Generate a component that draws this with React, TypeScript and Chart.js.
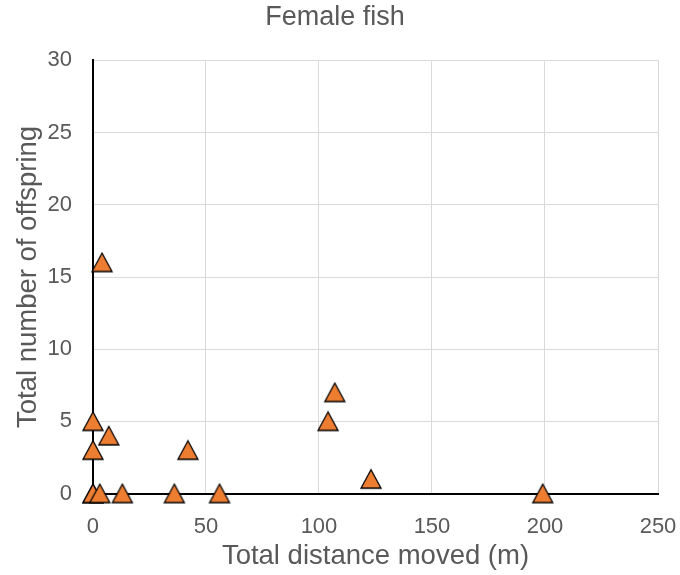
import React, { useEffect, useRef } from "react";
import { Chart, registerables } from "chart.js";
Chart.register(...registerables);

const distance = [0, 0, 0, 0, 3, 4, 7, 13, 36, 42, 56, 104, 107, 123, 199];
const offspring = [0, 0, 3, 5, 0, 16, 4, 0, 0, 3, 0, 5, 7, 1, 0];
const xTicks = [0, 50, 100, 150, 200, 250];
const yTicks = [0, 5, 10, 15, 20, 25, 30];

function makeTriangle(): HTMLCanvasElement {
  const c = document.createElement("canvas");
  c.width = 24;
  c.height = 22;
  const ctx = c.getContext("2d")!;
  ctx.beginPath();
  ctx.moveTo(12, 1.5);
  ctx.lineTo(22, 20);
  ctx.lineTo(2, 20);
  ctx.closePath();
  ctx.fillStyle = "#ed7d31";
  ctx.fill();
  ctx.lineWidth = 1.3;
  ctx.lineJoin = "miter";
  ctx.strokeStyle = "#000000";
  ctx.stroke();
  return c;
}

export default function App() {
  const ref = useRef<HTMLCanvasElement>(null);
  useEffect(() => {
    document.body.style.margin = "0";
    const font = "'Liberation Sans', Arial, sans-serif";
    const gray = "#595959";
    const tri = makeTriangle();
    const chart = new Chart(ref.current!, {
      type: "scatter",
      data: {
        datasets: [
          {
            data: distance.map((d, i) => ({ x: d, y: offspring[i] })),
            pointStyle: tri,
            pointRadius: 11,
            pointHoverRadius: 11,
            backgroundColor: "#ed7d31",
            borderColor: "#000000",
            clip: false,
          } as any,
        ],
      },
      options: {
        animation: false,
        responsive: false,
        layout: { padding: { top: 0, right: 22, left: 12, bottom: 2 } },
        plugins: {
          legend: { display: false },
          tooltip: { enabled: false },
          title: {
            display: true,
            text: "Female fish",
            color: gray,
            font: { family: font, size: 27, weight: "normal" },
            padding: { top: 1, bottom: 27 },
          },
        },
        scales: {
          x: {
            type: "linear",
            min: 0,
            max: 250,
            afterBuildTicks: (s: any) => {
              s.ticks = xTicks.map((v) => ({ value: v }));
            },
            ticks: { color: gray, font: { family: font, size: 22 }, padding: 0 },
            grid: {
              color: "#d9d9d9",
              lineWidth: 1,
              drawTicks: true,
              tickLength: 20,
              tickColor: "rgba(0,0,0,0)",
            },
            border: { color: "#000000", width: 2 },
            title: {
              display: true,
              text: "Total distance moved (m)",
              color: gray,
              font: { family: font, size: 27.5 },
              padding: { top: 0, bottom: 0 },
            },
          },
          y: {
            type: "linear",
            min: 0,
            max: 30,
            afterBuildTicks: (s: any) => {
              s.ticks = yTicks.map((v) => ({ value: v }));
            },
            ticks: { color: gray, font: { family: font, size: 22 }, padding: 0 },
            grid: {
              color: "#d9d9d9",
              lineWidth: 1,
              drawTicks: true,
              tickLength: 21,
              tickColor: "rgba(0,0,0,0)",
            },
            border: { color: "#000000", width: 2 },
            title: {
              display: true,
              text: "Total number of offspring",
              color: gray,
              font: { family: font, size: 27.5 },
              padding: { top: 0, bottom: 2.5 },
            },
          },
        },
      },
    });
    return () => chart.destroy();
  }, []);
  return <canvas ref={ref} width={680} height={575} style={{ display: "block" }} />;
}
